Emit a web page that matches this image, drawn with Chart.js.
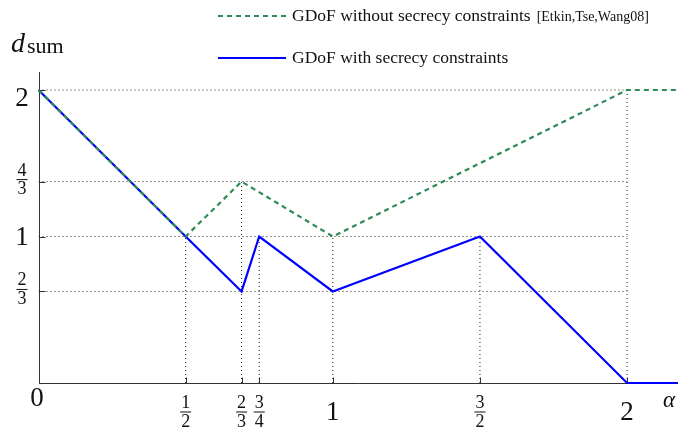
<!DOCTYPE html>
<html>
<head>
<meta charset="utf-8">
<script src="https://cdn.jsdelivr.net/npm/chart.js@4"></script>
<style>
  html, body { margin: 0; padding: 0; background: #fff; }
  canvas { display: block; }
</style>
</head>
<body>
<canvas id="gdofChart" width="678" height="431"></canvas>
<script>
// corner points of the two curves (alpha, d_sum)
const alphaNoSecrecy = [0, 0.5, 0.69, 1, 2, 2.18];
const dsumNoSecrecy  = [2, 1, 1.375, 1, 2, 2];
const alphaSecrecy = [0, 0.5, 0.69, 0.75, 1, 1.5, 2, 2.18];
const dsumSecrecy  = [2, 1, 0.625, 1, 0.625, 1, 0, 0];

// ticks and their labels ("a/b" is drawn as a stacked fraction)
const xTickValues = [0, 0.5, 0.69, 0.75, 1, 1.5, 2];
const xTickLabels = ['0', '1/2', '2/3', '3/4', '1', '3/2', '2'];
const yTickValues = [2, 1.375, 1, 0.625];
const yTickLabels = ['2', '4/3', '1', '2/3'];

// dotted guide lines
const guideRows = [2, 1.375, 1, 0.625];          // horizontal, alpha 0 -> 2
const guideColsX = [0.5, 0.69, 0.75, 1, 1.5, 2]; // vertical, d_sum 0 -> top
const guideColsTop = [1, 1.375, 1, 1, 1, 2];

const legendLabels = ['GDoF without secrecy constraints', 'GDoF with secrecy constraints'];
const legendCite = '[Etkin,Tse,Wang08]';

const GREEN = '#2e8b57';
const BLUE = '#0000ff';
const SERIF = '"Liberation Serif", "DejaVu Serif", serif';

function toPoints(xs, ys) {
    return xs.map((x, i) => ({ x: x, y: ys[i] }));
}

const guideStyle = {
    borderColor: '#222',
    borderWidth: 1,
    borderDash: [1, 3],
    pointRadius: 0,
    fill: false,
    order: 5
};

const datasets = [
    {
        label: legendLabels[0],
        data: toPoints(alphaNoSecrecy, dsumNoSecrecy),
        borderColor: GREEN,
        borderWidth: 2.2,
        borderDash: [5, 4],
        pointRadius: 0,
        tension: 0,
        clip: 4,
        order: 0
    },
    {
        label: legendLabels[1],
        data: toPoints(alphaSecrecy, dsumSecrecy),
        borderColor: BLUE,
        borderWidth: 2.2,
        pointRadius: 0,
        tension: 0,
        clip: 4,
        order: 1
    }
];

guideRows.forEach(v => {
    datasets.push(Object.assign({ data: [{ x: 0, y: v }, { x: 2, y: v }] }, guideStyle));
});
guideColsX.forEach((v, i) => {
    datasets.push(Object.assign({ data: [{ x: v, y: 0 }, { x: v, y: guideColsTop[i] }] }, guideStyle));
});

function drawFraction(ctx, text, cx, barY, size) {
    const parts = text.split('/');
    ctx.font = size + 'px ' + SERIF;
    ctx.textAlign = 'center';
    ctx.textBaseline = 'alphabetic';
    const w = Math.max(ctx.measureText(parts[0]).width, ctx.measureText(parts[1]).width) + 2;
    const digitH = size * 0.66;
    ctx.fillText(parts[0], cx, barY - 4);
    ctx.fillText(parts[1], cx, barY + 3 + digitH);
    ctx.fillRect(cx - w / 2, barY - 0.5, w, 1);
}

function drawLabel(ctx, text, cx, cy, size, fracSize) {
    if (text.includes('/')) {
        drawFraction(ctx, text, cx, cy, fracSize);
    } else {
        ctx.font = size + 'px ' + SERIF;
        ctx.textAlign = 'center';
        ctx.textBaseline = 'alphabetic';
        ctx.fillText(text, cx, cy + size * 0.33);
    }
}

const mathAxes = {
    id: 'mathAxes',
    beforeDatasetsDraw(chart) {
        const ctx = chart.ctx;
        const xs = chart.scales.x, ys = chart.scales.y;
        const x0 = Math.round(xs.getPixelForValue(0)) + 0.5;
        const y0 = Math.round(ys.getPixelForValue(0)) + 0.5;
        ctx.save();
        ctx.strokeStyle = '#333';
        ctx.lineWidth = 1;
        ctx.beginPath();
        ctx.moveTo(x0, chart.chartArea.top);
        ctx.lineTo(x0, y0);
        ctx.lineTo(chart.width, y0);
        // small tick marks
        yTickValues.forEach(v => {
            const y = Math.round(ys.getPixelForValue(v)) + 0.5;
            ctx.moveTo(x0, y);
            ctx.lineTo(x0 + 6, y);
        });
        xTickValues.forEach(v => {
            const x = Math.round(xs.getPixelForValue(v)) + 0.5;
            ctx.moveTo(x, y0);
            ctx.lineTo(x, y0 - 6);
        });
        ctx.stroke();
        ctx.restore();
    },
    afterDraw(chart) {
        const ctx = chart.ctx;
        const xs = chart.scales.x, ys = chart.scales.y;
        ctx.save();
        ctx.fillStyle = '#111';

        // y tick labels
        yTickValues.forEach((v, i) => {
            const y = ys.getPixelForValue(v);
            const off = i === 0 ? 7 : 0;
            drawLabel(ctx, yTickLabels[i], 22, y - (yTickLabels[i].includes('/') ? 2 : -off), 27, 18);
        });

        // x tick labels
        xTickValues.forEach((v, i) => {
            const x = xs.getPixelForValue(v);
            const lab = xTickLabels[i];
            let cy = 411;
            if (lab === '0') cy = 397;
            drawLabel(ctx, lab, i === 0 ? 37 : x, lab.includes('/') ? 412 : cy, 27, 18);
        });

        // axis names
        ctx.textAlign = 'left';
        ctx.textBaseline = 'alphabetic';
        ctx.font = 'italic 28px ' + SERIF;
        ctx.fillText('d', 11, 52);
        ctx.font = '22px ' + SERIF;
        ctx.fillText('sum', 27, 53);
        ctx.font = 'italic 23px ' + SERIF;
        ctx.fillText('\u03b1', 663, 407);

        // legend
        ctx.lineWidth = 2.2;
        ctx.strokeStyle = GREEN;
        ctx.setLineDash([5, 4]);
        ctx.beginPath();
        ctx.moveTo(218, 16);
        ctx.lineTo(286, 16);
        ctx.stroke();
        ctx.strokeStyle = BLUE;
        ctx.setLineDash([]);
        ctx.beginPath();
        ctx.moveTo(218, 58);
        ctx.lineTo(286, 58);
        ctx.stroke();

        ctx.font = '17.5px ' + SERIF;
        ctx.fillText(legendLabels[0], 292, 21);
        const w0 = ctx.measureText(legendLabels[0]).width;
        ctx.fillText(legendLabels[1], 292, 63);
        ctx.font = '14px ' + SERIF;
        ctx.fillText(legendCite, 292 + w0 + 6, 21);

        ctx.restore();
    }
};

new Chart(document.getElementById('gdofChart'), {
    type: 'line',
    data: { datasets: datasets },
    options: {
        responsive: false,
        devicePixelRatio: 1,
        animation: false,
        layout: { padding: { left: 38.5, right: 0, top: 72, bottom: 48 } },
        scales: {
            x: { type: 'linear', min: 0, max: 2.173, display: false },
            y: { type: 'linear', min: 0, max: 2.123, display: false }
        },
        plugins: {
            legend: { display: false },
            tooltip: { enabled: false }
        }
    },
    plugins: [mathAxes]
});
</script>
</body>
</html>
